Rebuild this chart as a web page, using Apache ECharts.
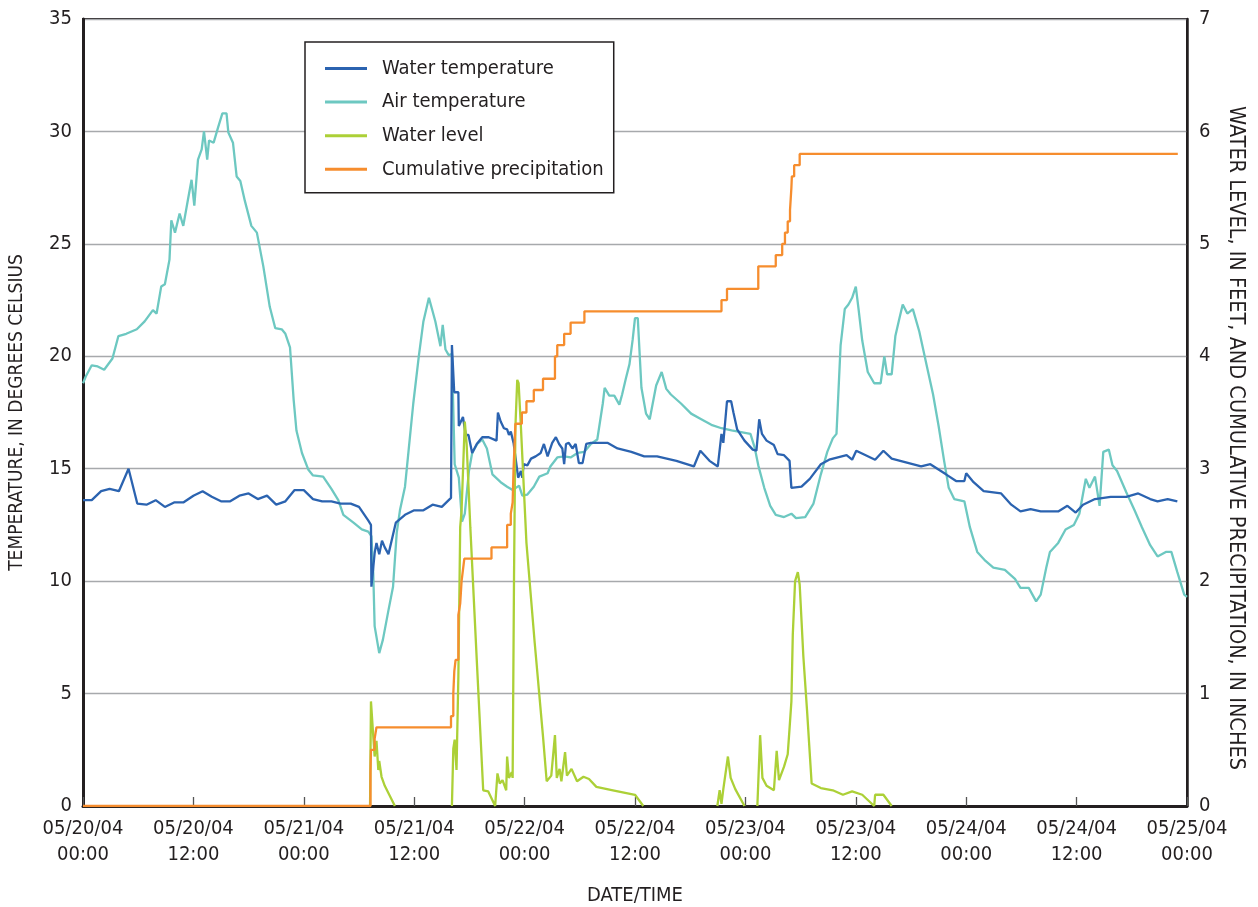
<!DOCTYPE html>
<html>
<head>
<meta charset="utf-8">
<script src="https://cdn.jsdelivr.net/npm/echarts@6/dist/echarts.min.js"></script>
<style>
html,body{margin:0;padding:0;background:#fff;}
#chart{width:1258px;height:907px;}
</style>
</head>
<body>
<div id="chart"></div>
<script>
// Hours since 05/20/04 00:00
var xTickLabels = ['05/20/04\n00:00','05/20/04\n12:00','05/21/04\n00:00','05/21/04\n12:00','05/22/04\n00:00','05/22/04\n12:00','05/23/04\n00:00','05/23/04\n12:00','05/24/04\n00:00','05/24/04\n12:00','05/25/04\n00:00'];
var leftTicks = [0,5,10,15,20,25,30,35];
var rightTicks = [0,1,2,3,4,5,6,7];

var waterTempHours = [0,0.95,1.97,2.9,3.9,4.95,5.9,6.9,7.9,8.9,9.9,10.9,12,13,14,15,16,17,18,19,20,21,22,23,24,25,26,27,28,29.1,30,31,31.3,31.35,31.7,31.9,32.2,32.5,32.8,33.2,34,35,36,37,38,39,40,40.1,40.35,40.8,40.85,41.3,41.6,41.9,42.3,42.8,43.4,44.1,44.95,45.1,45.4,45.75,46.1,46.3,46.5,46.8,47.3,47.6,47.75,47.9,48.3,48.7,49.2,49.75,50.1,50.5,51,51.4,51.75,52.1,52.3,52.5,52.8,53.2,53.55,53.9,54.3,54.7,55.2,56.5,57,58.1,59.6,61,62.4,64.5,66.4,67.1,68.1,69,69.4,69.6,70,70.45,70.7,71.1,71.9,72.8,73.2,73.5,73.8,74.3,75.1,75.5,76.2,76.8,77,78.1,79,80.2,81.1,83,83.6,84.05,86.1,87,87.9,91.1,92.1,93.8,94.9,95.8,96,96.8,97.9,99.8,100.9,101.9,103,104.1,106,107,107.9,108.7,110,111.7,113.4,114.7,116,116.8,117.9,118.95];
var waterTempValues = [13.6,13.6,14.0,14.1,14.0,15.0,13.45,13.4,13.6,13.3,13.5,13.5,13.8,14.0,13.75,13.55,13.55,13.8,13.9,13.65,13.8,13.4,13.55,14.05,14.05,13.65,13.55,13.55,13.45,13.45,13.3,12.7,12.5,9.75,11.25,11.7,11.2,11.8,11.5,11.2,12.6,12.95,13.15,13.15,13.4,13.3,13.7,20.5,18.4,18.4,16.9,17.3,16.5,16.5,15.7,16.1,16.4,16.4,16.25,17.5,17.1,16.8,16.75,16.5,16.65,16.15,14.6,14.9,14.6,15.2,15.15,15.45,15.55,15.7,16.1,15.55,16.15,16.4,16.1,15.9,15.2,16.1,16.15,15.9,16.1,15.25,15.25,16.1,16.15,16.15,16.15,15.9,15.75,15.55,15.55,15.35,15.1,15.8,15.35,15.1,16.55,16.15,18.0,18.0,17.5,16.75,16.25,15.85,15.8,17.2,16.55,16.25,16.05,15.65,15.6,15.35,14.15,14.2,14.55,15.2,15.4,15.6,15.4,15.8,15.4,15.8,15.45,15.1,15.2,14.75,14.45,14.45,14.8,14.4,14.0,13.9,13.4,13.1,13.2,13.1,13.1,13.35,13.05,13.4,13.65,13.75,13.75,13.9,13.65,13.55,13.65,13.55];

var airTempHours = [0,0.3,0.95,1.6,2.3,3.2,3.85,4.7,5.85,6.7,7.6,8,8.5,8.9,9.4,9.6,10,10.5,10.9,11.4,11.8,12.1,12.5,12.9,13.15,13.5,13.7,14.2,14.7,15.15,15.6,15.8,16.3,16.7,17.1,17.6,18.3,18.9,19.6,20.3,20.9,21.6,22,22.5,22.9,23.2,23.8,24.5,25,26.1,27,27.75,28.3,29.4,30.3,31,31.35,31.55,31.7,32.2,32.6,33.2,33.7,34.1,34.45,35,35.4,35.9,36.5,37,37.6,38,38.3,38.85,39.1,39.4,39.75,40.1,40.4,40.85,41.2,41.5,41.95,42.3,42.85,43.4,43.9,44.5,45.4,46.1,46.7,47.4,47.75,48.3,49,49.6,50.5,50.8,51.55,52.3,53,53.75,54.5,55.2,55.9,56.5,56.7,57.2,57.75,58.3,58.6,59,59.4,59.75,60,60.3,60.7,61.2,61.6,62.3,62.9,63.4,63.9,65,66.1,67.2,68.3,69.4,70.5,72.55,73,73.4,74.05,74.7,75.3,76.2,77,77.5,78.5,79.4,80.2,80.9,81.5,81.9,82.35,82.8,83.2,83.6,84,84.3,84.7,85.3,86,86.7,87.1,87.4,87.9,88.3,88.75,89.1,89.6,90.2,90.9,91.7,92.4,93,93.6,94.1,94.7,95.8,96.4,97.2,98.1,98.95,100.2,101.3,101.9,102.8,103.6,104.1,104.7,105.1,106,106.8,107.7,108.3,109,109.4,110,110.5,110.9,111.5,111.9,112.4,113.4,114.3,115.1,116,116.8,117.7,118.3,118.95,119.7,120];
var airTempValues = [18.8,19.1,19.6,19.55,19.4,19.9,20.9,21.0,21.2,21.55,22.05,21.9,23.1,23.2,24.3,26.05,25.5,26.35,25.8,26.95,27.85,26.7,28.75,29.2,30.0,28.75,29.6,29.5,30.2,30.8,30.8,29.95,29.5,28.0,27.8,26.9,25.8,25.5,24.0,22.2,21.25,21.2,21.0,20.4,18.05,16.7,15.7,14.95,14.7,14.65,14.1,13.6,12.95,12.6,12.3,12.2,12.0,10.35,8.0,6.8,7.4,8.7,9.75,12.15,13.15,14.2,15.85,17.9,20.0,21.55,22.6,22.0,21.55,20.45,21.4,20.3,20.05,20.1,15.2,14.6,12.65,13.0,14.9,15.7,16.1,16.3,15.9,14.75,14.4,14.2,14.05,14.25,13.8,13.85,14.2,14.65,14.8,15.1,15.5,15.55,15.5,15.7,15.75,16.1,16.3,17.9,18.6,18.25,18.25,17.85,18.3,19.0,19.65,20.75,21.7,21.7,18.6,17.45,17.2,18.7,19.3,18.55,18.3,17.9,17.45,17.2,16.95,16.8,16.7,16.55,15.95,15.15,14.15,13.35,12.95,12.85,13.0,12.8,12.85,13.45,14.75,15.75,16.35,16.55,20.5,22.1,22.3,22.6,23.1,22.1,20.7,19.3,18.8,18.8,20.0,19.2,19.2,20.9,21.7,22.3,21.9,22.1,21.1,19.6,18.3,16.9,15.35,14.15,13.65,13.55,12.4,11.3,10.9,10.6,10.5,10.1,9.7,9.7,9.1,9.4,10.6,11.3,11.7,12.3,12.5,13.0,14.55,14.15,14.65,13.35,15.75,15.85,15.15,14.9,13.95,13.15,12.4,11.6,11.1,11.3,11.3,10.4,9.4,9.3];

// null = no record drawn
var waterLevelHours = [31.2,31.3,31.55,31.7,31.9,32.1,32.2,32.45,32.8,33.9,34,40.1,40.25,40.4,40.6,40.8,41,41.15,41.5,41.7,42.1,42.8,43.5,44.05,44.8,45.05,45.3,45.6,46,46.1,46.3,46.6,46.7,46.85,47,47.2,47.35,47.6,48.2,49.1,50,50.4,50.9,51.3,51.5,51.8,52,52.4,52.6,53.1,53.7,54.4,55,55.8,57.6,60,60.9,61,68.95,69.2,69.4,69.6,70.1,70.4,70.9,71.9,72,73.3,73.6,73.85,74.3,74.7,75.1,75.4,75.65,76.2,76.6,76.8,77,77.15,77.4,77.7,77.9,78.3,78.7,79.2,80.2,81.5,82.6,83.6,84.7,86,86.1,87,87.9];
var waterLevelValues = [0,0.93,0.62,0.44,0.58,0.32,0.4,0.26,0.18,0,null,0,0.51,0.59,0.32,1.15,2.48,2.63,3.42,3.22,2.48,1.3,0.14,0.13,0,0.29,0.2,0.23,0.14,0.44,0.25,0.3,0.25,2.04,3.37,3.79,3.76,3.37,2.34,1.45,0.62,0.22,0.27,0.63,0.25,0.33,0.22,0.48,0.27,0.33,0.22,0.26,0.24,0.17,0.14,0.1,0,null,0,0.14,0.02,0.15,0.44,0.25,0.15,0,null,0,0.63,0.25,0.18,0.16,0.14,0.49,0.23,0.35,0.46,0.69,0.93,1.52,2.0,2.08,1.97,1.33,0.85,0.2,0.16,0.14,0.1,0.13,0.1,0,0.1,0.1,0];

var precipHours = [0,31.25,31.3,31.7,31.9,40,40.25,40.36,40.5,40.8,41,41.15,41.3,41.45,44.4,46.1,46.5,46.7,46.8,46.9,47,47.7,48.2,49,50,51.3,51.55,52.3,53,54.5,69.4,70,73.4,75.3,76,76.3,76.6,76.85,77,77.05,77.3,77.9,119];
var precipValues = [0,0.3,0.5,0.6,0.7,0.8,1.0,1.2,1.3,1.7,1.8,2.0,2.1,2.2,2.3,2.5,2.6,2.7,3.0,3.2,3.4,3.5,3.6,3.7,3.8,4.0,4.1,4.2,4.3,4.4,4.5,4.6,4.8,4.9,5.0,5.1,5.2,5.3,5.5,5.6,5.7,5.8,5.8];

function pairs(h, v){ return h.map(function(x,i){ return [x, v[i]]; }); }

var FONT = "'Liberation Sans Narrow','DejaVu Sans Condensed','Roboto Condensed',sans-serif";
var TXT = '#231f20';

var chart = echarts.init(document.getElementById('chart'), null, {renderer:'canvas'});
chart.setOption({
  animation:false,
  backgroundColor:'#fff',
  textStyle:{fontFamily:FONT, color:TXT},
  grid:{left:83, right:71, top:19, bottom:101, containLabel:false, outerBoundsMode:'none',
    show:true, borderColor:TXT, borderWidth:2, backgroundColor:'transparent'},
  legend:{
    orient:'vertical', left:305, top:42,
    padding:[16,10,13,20], itemGap:12.6, itemWidth:42, itemHeight:3,
    icon:'rect', borderColor:TXT, borderWidth:1.5, backgroundColor:'#fff',
    textStyle:{fontFamily:FONT, fontSize:20, color:TXT, lineHeight:21, padding:[0,0,0,10]},
    data:['Water temperature','Air temperature','Water level','Cumulative precipitation']
  },
  xAxis:{
    type:'value', min:0, max:120, interval:12,
    name:'DATE/TIME', nameLocation:'middle', nameGap:80,
    nameTextStyle:{fontFamily:FONT, fontSize:20, color:TXT},
    axisLine:{show:true, lineStyle:{color:TXT, width:3}},
    axisTick:{show:true, inside:true, length:9, lineStyle:{color:'#555', width:1.3}},
    axisLabel:{fontFamily:FONT, fontSize:20, color:TXT, lineHeight:26, margin:10,
      formatter:function(v){ return xTickLabels[Math.round(v/12)]; }},
    splitLine:{show:false}
  },
  yAxis:[{
    type:'value', min:0, max:35, interval:5,
    name:'TEMPERATURE, IN DEGREES CELSIUS', nameLocation:'middle', nameGap:56,
    nameTextStyle:{fontFamily:FONT, fontSize:19, color:TXT},
    axisLine:{show:true, lineStyle:{color:TXT, width:3}},
    axisTick:{show:false},
    axisLabel:{fontFamily:FONT, fontSize:20, color:TXT, margin:11,
      formatter:function(v){ return leftTicks.indexOf(v)>=0 ? String(v) : ''; }},
    splitLine:{show:true, lineStyle:{color:'#a7a9ac', width:1.3}}
  },{
    type:'value', min:0, max:7, interval:1, position:'right',
    axisLine:{show:true, lineStyle:{color:TXT, width:2.5}},
    axisTick:{show:false},
    axisLabel:{fontFamily:FONT, fontSize:20, color:TXT, margin:12,
      formatter:function(v){ return rightTicks.indexOf(v)>=0 ? String(v) : ''; }},
    splitLine:{show:false}
  }],
  graphic:[{
    type:'text', x:1236, y:438, rotation:-Math.PI/2,
    style:{text:'WATER LEVEL, IN FEET, AND CUMULATIVE PRECIPITATION, IN INCHES', fontFamily:FONT, fontSize:21.5, fill:TXT, textAlign:'center', textVerticalAlign:'middle'}
  }],
  series:[{
    name:'Air temperature', type:'line', yAxisIndex:0, showSymbol:false, symbol:'none',
    lineStyle:{color:'#6dc8c1', width:2.3}, itemStyle:{color:'#6dc8c1'},
    data:pairs(airTempHours, airTempValues), z:2
  },{
    name:'Water temperature', type:'line', yAxisIndex:0, showSymbol:false, symbol:'none',
    lineStyle:{color:'#2b63b0', width:2.3}, itemStyle:{color:'#2b63b0'},
    data:pairs(waterTempHours, waterTempValues), z:3
  },{
    name:'Water level', type:'line', yAxisIndex:1, showSymbol:false, symbol:'none', connectNulls:false,
    lineStyle:{color:'#acd037', width:2.3}, itemStyle:{color:'#acd037'},
    data:pairs(waterLevelHours, waterLevelValues), z:4
  },{
    name:'Cumulative precipitation', type:'line', yAxisIndex:1, showSymbol:false, symbol:'none', step:'end',
    lineStyle:{color:'#f68d2e', width:2.3}, itemStyle:{color:'#f68d2e'},
    data:pairs(precipHours, precipValues), z:5
  }]
});
</script>
</body>
</html>
